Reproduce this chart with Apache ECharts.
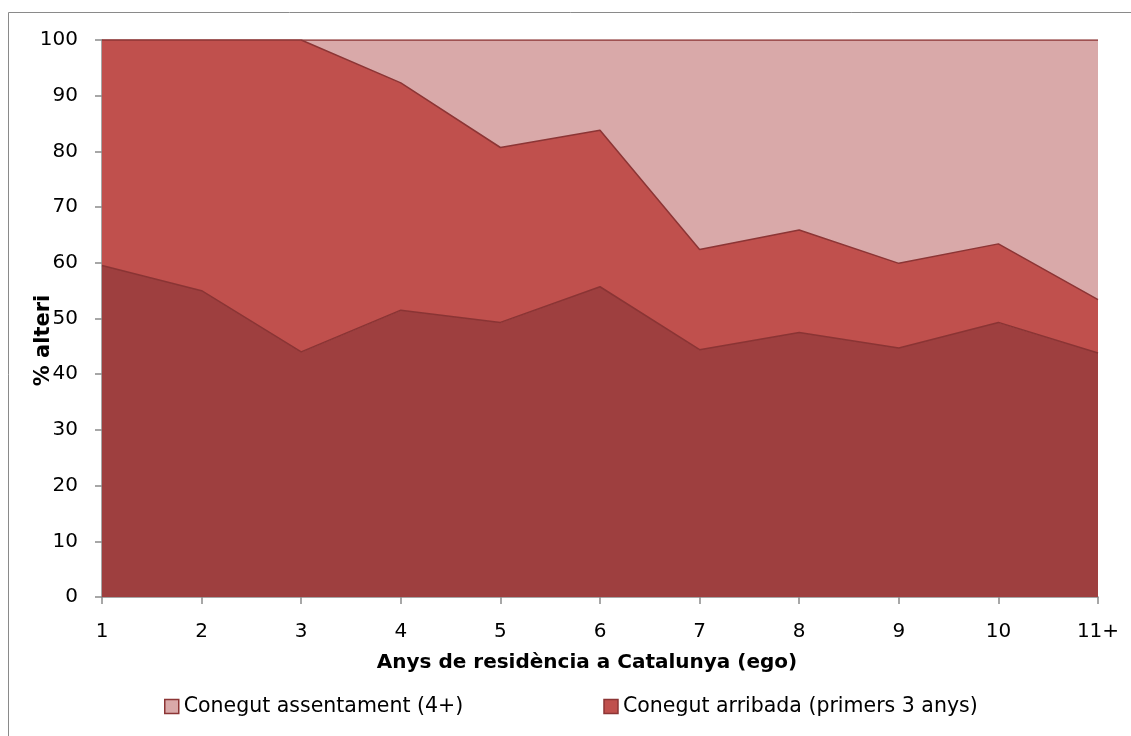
<!DOCTYPE html>
<html>
<head>
<meta charset="utf-8">
<script src="https://cdn.jsdelivr.net/npm/echarts@6/dist/echarts.min.js"></script>
<style>
  html, body { margin: 0; padding: 0; background: #fff; }
  #tubiao { width: 1131px; height: 736px; }
</style>
</head>
<body>
<div id="tubiao"></div>
<script>
// dades
var anys = ['1', '2', '3', '4', '5', '6', '7', '8', '9', '10', '11+'];
var origen = [59.5, 55.0, 44.0, 51.5, 49.3, 55.7, 44.4, 47.5, 44.7, 49.3, 43.8];
var arribada = [40.5, 45.0, 56.0, 40.8, 31.4, 28.1, 18.0, 18.4, 15.2, 14.1, 9.6];
var assentament = [0, 0, 0, 7.7, 19.3, 16.2, 37.6, 34.1, 40.1, 36.6, 46.6];
var yTicks = [0, 10, 20, 30, 40, 50, 60, 70, 80, 90, 100];

var font = 'DejaVu Sans';
var vora = '#8c3535';

var myChart = echarts.init(document.getElementById('tubiao'));
var option = {
    animation: false,
    textStyle: { fontFamily: font },
    graphic: [
        {
            type: 'rect',
            shape: { x: 8.5, y: 12.5, width: 1140, height: 740 },
            style: { fill: 'none', stroke: '#8a8a8a', lineWidth: 1 },
            silent: true
        }
    ],
    grid: { left: 102, right: 33, top: 40, bottom: 139 },
    legend: {
        data: [
            { name: 'Conegut assentament (4+)', itemStyle: { color: '#d9a9a9', borderColor: vora, borderWidth: 1.5 } },
            { name: 'Conegut arribada (primers 3 anys)', itemStyle: { color: '#c0504d', borderColor: vora, borderWidth: 1.5 } }
        ],
        top: 691,
        left: 159,
        itemWidth: 14,
        itemHeight: 14,
        itemGap: 140,
        icon: 'rect',
        textStyle: { fontFamily: font, fontSize: 20.5, color: '#000' }
    },
    xAxis: {
        type: 'category',
        data: anys,
        boundaryGap: false,
        name: 'Anys de residència a Catalunya (ego)',
        nameLocation: 'middle',
        nameGap: 56,
        nameMoveOverlap: false,
        nameTextStyle: { fontFamily: font, fontSize: 20, fontWeight: 'bold', color: '#000', padding: [0, 26, 0, 0] },
        axisLine: { lineStyle: { color: '#8a8a8a', width: 1.5 } },
        axisTick: { show: true, length: 7, alignWithLabel: true, lineStyle: { color: '#8a8a8a', width: 1.5 } },
        axisLabel: { fontFamily: font, fontSize: 20, color: '#000', margin: 25 },
        splitLine: { show: false }
    },
    yAxis: {
        type: 'value',
        min: yTicks[0],
        max: yTicks[yTicks.length - 1],
        interval: 10,
        name: '% alteri',
        nameLocation: 'middle',
        nameRotate: 90,
        nameGap: 48,
        nameMoveOverlap: false,
        nameTextStyle: { fontFamily: font, fontSize: 21, fontWeight: 'bold', color: '#000', padding: [0, 44, 0, 0] },
        axisLine: { show: true, lineStyle: { color: '#8a8a8a', width: 1.5 } },
        axisTick: { show: true, length: 7, lineStyle: { color: '#8a8a8a', width: 1.5 } },
        axisLabel: { fontFamily: font, fontSize: 20, color: '#000', margin: 24 },
        splitLine: { show: false }
    },
    series: [
        {
            name: 'Conegut origen',
            type: 'line',
            stack: 'total',
            data: origen,
            symbol: 'none',
            lineStyle: { color: '#8a3434', width: 1.5 },
            areaStyle: { color: '#9e3f3f', opacity: 1 },
            itemStyle: { color: '#9e3f3f' },
            z: 3
        },
        {
            name: 'Conegut arribada (primers 3 anys)',
            type: 'line',
            stack: 'total',
            data: arribada,
            symbol: 'none',
            lineStyle: { color: vora, width: 1.5 },
            areaStyle: { color: '#c0504d', opacity: 1 },
            itemStyle: { color: '#c0504d' },
            z: 2
        },
        {
            name: 'Conegut assentament (4+)',
            type: 'line',
            stack: 'total',
            data: assentament,
            symbol: 'none',
            lineStyle: { color: vora, width: 1.5 },
            areaStyle: { color: '#d9a9a9', opacity: 1 },
            itemStyle: { color: '#d9a9a9' },
            z: 1
        }
    ]
};
myChart.setOption(option);
</script>
</body>
</html>
